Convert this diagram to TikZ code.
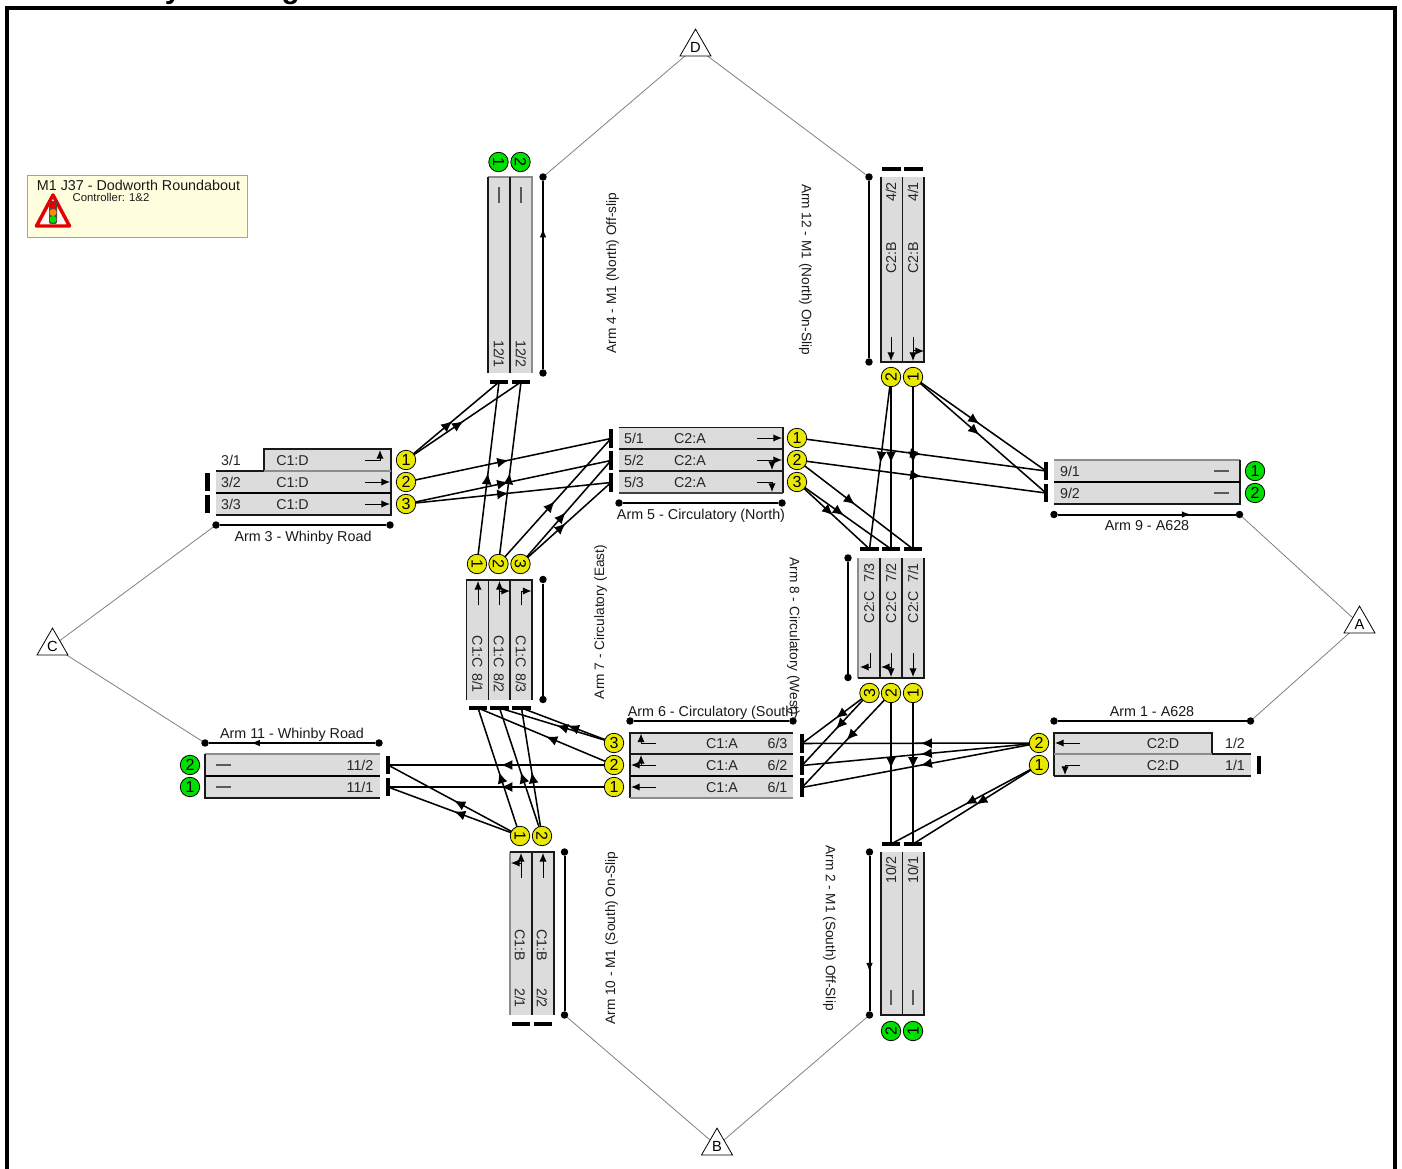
\documentclass[tikz,border=0pt]{standalone}
\usepackage{fontspec}
\setmainfont{Liberation Sans}
\usetikzlibrary{arrows.meta,decorations.markings,shapes.geometric}
\pgfdeclarelayer{connlayer}
\pgfsetlayers{connlayer,main}
\definecolor{lanefill}{HTML}{DCDCDC}
\definecolor{sigyellow}{HTML}{E8E800}
\definecolor{siggreen}{HTML}{00E000}
\definecolor{infofill}{HTML}{FFFFE0}
\definecolor{infoedge}{HTML}{A8A878}
\tikzset{
  edgeD/.style={draw=black!90,line width=1.15pt},
  edgeG/.style={draw=black!45,line width=.8pt},
  lanetxt/.style={font=\fontsize{10.7pt}{12pt}\selectfont,text=black!85,inner sep=0pt,text height=7.7pt,text depth=0pt},
  armtxt/.style={font=\fontsize{10.75pt}{12pt}\selectfont,text=black!90,inner sep=0pt,text height=7.7pt,text depth=0pt},
  armrot/.style={armtxt,font=\fontsize{10.25pt}{12pt}\selectfont},
  ysig/.style={circle,draw=black,line width=.6pt,fill=sigyellow,minimum size=14.6pt,inner sep=0pt,font=\fontsize{12pt}{13pt}\selectfont},
  gsig/.style={ysig,fill=siggreen},
  hbar/.style={rectangle,fill=black,minimum width=14pt,minimum height=3.2pt,inner sep=0pt},
  vbar/.style={rectangle,fill=black,minimum width=3.2pt,minimum height=14pt,inner sep=0pt},
  enddot/.style={circle,fill=black,minimum size=5.6pt,inner sep=0pt},
  sideline/.style={draw=black,line width=1.5pt},
  flowmark/.style={postaction={decorate},decoration={markings,mark=at position #1 with {\arrow{Latex[length=7pt,width=5pt]}}}},
  connect/.style={draw=black,line width=1.15pt,postaction={decorate},decoration={markings,mark=at position 0.5 with {\arrow{Latex[length=8.5pt,width=7.5pt]}}}},
  zone/.style={draw=black!50,line width=.6pt},
  tri/.style={regular polygon,regular polygon sides=3,draw=black,line width=.6pt,fill=white,minimum size=26.8pt,inner sep=0pt,font=\fontsize{11pt}{12pt}\selectfont},
  turn/.style={draw=black,line width=.75pt,-{Latex[length=6.5pt,width=5.5pt]}},
  bare/.style={draw=black!65,line width=.8pt},
}
\begin{document}
\begin{tikzpicture}[x=.75pt,y=-.75pt]
\useasboundingbox (0,0) rectangle (1402,1169);
% title and frame
\begin{scope}
\clip (0,0) rectangle (1402,1169);
\node[anchor=base west,inner sep=0pt,font=\bfseries\fontsize{22.2pt}{24pt}\selectfont] (title) at (5,-1) {Network Layout Diagram};
\draw[line width=3pt,black] (7,1180) -- (7,8) -- (1395,8) -- (1395,1180);
\end{scope}
% info box
\node[draw=infoedge,fill=infofill,line width=.6pt,minimum width=165pt,minimum height=46.5pt,inner sep=0pt] (info) at (137,206) {};
\node[armtxt] (infotitle) at (138.5,185) {M1 J37 - Dodworth Roundabout};
\node[inner sep=0pt,font=\fontsize{8.5pt}{10pt}\selectfont,text=black!90] (infosub) at (111,197) {Controller: 1\&2};
\draw[draw=red!90!black,fill=white!97!red,line width=2.6pt,line join=round] (53,195) -- (69.5,226) -- (36.5,226) -- cycle;
\fill[black!70,rounded corners=1.5pt] (49,201) rectangle (57,224);
\fill[red!90!black] (53,205.5) circle (3.5);
\fill[orange!90!yellow] (53,212.5) circle (3.5);
\fill[green!90!black] (53,219.5) circle (3.5);
% ---------- Arm 4
\fill[lanefill] (488,177) rectangle (532,373);
\draw[edgeG] (488,177) -- (532,177) -- (532,373);
\draw[edgeD] (488,177) -- (488,373) (510,177) -- (510,373);
\node[lanetxt,rotate=-90] (t121) at (499,354) {12/1};
\node[lanetxt,rotate=-90] (t122) at (521,354) {12/2};
\draw[bare] (499,187) -- (499,203) (521,187) -- (521,203);
\node[gsig,rotate=-90] (g41) at (498.5,162) {1};
\node[gsig,rotate=-90] (g42) at (520.5,162) {2};
\node[hbar] (b121) at (499,382) {};
\node[hbar] (b122) at (521,382) {};
\node[enddot] (d4a) at (543,177) {};
\node[enddot] (d4b) at (543,373) {};
\draw[sideline,flowmark=.75] (d4b) -- (d4a);
\node[armrot,rotate=90] (l4) at (611,273) {Arm 4 - M1 (North) Off-slip};
% ---------- Arm 12
\fill[lanefill] (881,177) rectangle (924,362);
\draw[edgeD] (881,177) -- (881,362) -- (924,362) -- (924,177) (902.5,177) -- (902.5,362);
\node[lanetxt,rotate=90] (t42) at (891,192) {4/2};
\node[lanetxt,rotate=90] (t41) at (913,192) {4/1};
\node[lanetxt,rotate=90] (c42) at (891,258) {C2:B};
\node[lanetxt,rotate=90] (c41) at (913,258) {C2:B};
\draw[turn] (891,337) -- (891,361);
\draw[turn] (913,337) -- (913,361);
\draw[turn] (913,351) -- (924,351);
\node[ysig,rotate=90] (s122) at (891,377) {2};
\node[ysig,rotate=90] (s121) at (913,377) {1};
\node[hbar] (b42) at (891.5,169) {};
\node[hbar] (b41) at (913.5,169) {};
\node[enddot] (d12a) at (869,177) {};
\node[enddot] (d12b) at (869,362) {};
\draw[sideline] (d12a) -- (d12b);
\node[armrot,rotate=-90] (l12) at (807,269.5) {Arm 12 - M1 (North) On-Slip};
% ---------- Arm 3
\fill[lanefill] (264,449) rectangle (391,471);
\fill[lanefill] (216,471) rectangle (391,515);
\draw[edgeD] (216,471) -- (264,471) -- (264,449) -- (391,449) -- (391,515) -- (216,515);
\draw[edgeG] (264,471) -- (391,471);
\draw[draw=black,line width=1.3pt] (216,493) -- (391,493);
\node[lanetxt] (t31) at (231,460.5) {3/1};
\node[lanetxt] (t32) at (231,482.5) {3/2};
\node[lanetxt] (t33) at (231,504.5) {3/3};
\node[lanetxt] (c31) at (292.5,460.5) {C1:D};
\node[lanetxt] (c32) at (292.5,482.5) {C1:D};
\node[lanetxt] (c33) at (292.5,504.5) {C1:D};
\draw[turn] (365,460) -- (380,460) -- (380,450);
\draw[turn] (365,482) -- (390,482);
\draw[turn] (365,504) -- (390,504);
\node[ysig] (s31) at (406,460) {1};
\node[ysig] (s32) at (406,482) {2};
\node[ysig] (s33) at (406,504) {3};
\node[vbar] (b32) at (207.5,482) {};
\node[vbar] (b33) at (207.5,504) {};
\node[enddot] (d3a) at (216,525) {};
\node[enddot] (d3b) at (390,525) {};
\draw[sideline] (d3a) -- (d3b);
\node[armtxt] (l3) at (303,536) {Arm 3 - Whinby Road};
% ---------- Arm 5
\fill[lanefill] (619,427) rectangle (783,493);
\draw[edgeD] (619,427.5) -- (783,427.5) -- (783,493) (619,449) -- (783,449) (619,471) -- (783,471);
\draw[draw=black!75,line width=1.2pt] (619,493) -- (783,493);
\node[lanetxt] (t51) at (634,438.5) {5/1};
\node[lanetxt] (t52) at (634,460.5) {5/2};
\node[lanetxt] (t53) at (634,482.5) {5/3};
\node[lanetxt] (c51) at (690,438.5) {C2:A};
\node[lanetxt] (c52) at (690,460.5) {C2:A};
\node[lanetxt] (c53) at (690,482.5) {C2:A};
\draw[turn] (757,438) -- (782,438);
\draw[turn] (757,460) -- (782,460);
\draw[turn] (772,460) -- (772,470);
\draw[turn] (757,482) -- (772,482) -- (772,492);
\node[ysig] (s51) at (797,438) {1};
\node[ysig] (s52) at (797,460) {2};
\node[ysig] (s53) at (797,482) {3};
\node[vbar] (b51) at (611,438.5) {};
\node[vbar] (b52) at (611,460.5) {};
\node[vbar] (b53) at (611,482.5) {};
\node[enddot] (d5a) at (619,503) {};
\node[enddot] (d5b) at (782,503) {};
\draw[sideline] (d5a) -- (d5b);
\node[armtxt] (l5) at (701,514) {Arm 5 - Circulatory (North)};
% ---------- Arm 9
\fill[lanefill] (1054,460) rectangle (1240,504);
\draw[edgeG] (1054,460) -- (1240,460);
\draw[edgeD] (1240,460) -- (1240,504) -- (1054,504);
\draw[draw=black,line width=1.3pt] (1054,482) -- (1240,482);
\node[lanetxt] (t91) at (1070,471) {9/1};
\node[lanetxt] (t92) at (1070,493) {9/2};
\draw[bare] (1214,471) -- (1229,471) (1214,493) -- (1229,493);
\node[gsig] (g91) at (1255,471) {1};
\node[gsig] (g92) at (1255,493) {2};
\node[vbar] (b91) at (1046,471) {};
\node[vbar] (b92) at (1046,493) {};
\node[enddot] (d9a) at (1054,514.5) {};
\node[enddot] (d9b) at (1239.5,514.5) {};
\draw[sideline,flowmark=.75] (d9a) -- (d9b);
\node[armtxt] (l9) at (1147,525.5) {Arm 9 - A628};
% ---------- Arm 7
\fill[lanefill] (466.5,580) rectangle (532,700);
\draw[edgeD] (466.5,700) -- (466.5,580) -- (532,580) -- (532,700) (488.5,580) -- (488.5,700) (510,580) -- (510,700);
\node[lanetxt,rotate=-90] (c81) at (477.5,652) {C1:C};
\node[lanetxt,rotate=-90] (c82) at (499,652) {C1:C};
\node[lanetxt,rotate=-90] (c83) at (521,652) {C1:C};
\node[lanetxt,rotate=-90] (t81) at (477.5,683) {8/1};
\node[lanetxt,rotate=-90] (t82) at (499,683) {8/2};
\node[lanetxt,rotate=-90] (t83) at (521,683) {8/3};
\draw[turn] (478,605) -- (478,581);
\draw[turn] (499.5,605) -- (499.5,581);
\draw[turn] (499.5,591) -- (510,591);
\draw[turn] (521,605) -- (521,591) -- (531.5,591);
\node[ysig,rotate=-90] (s71) at (477,564) {1};
\node[ysig,rotate=-90] (s72) at (498.5,564) {2};
\node[ysig,rotate=-90] (s73) at (520.5,564) {3};
\node[hbar] (b81) at (478,708) {};
\node[hbar] (b82) at (499.5,708) {};
\node[hbar] (b83) at (521.5,708) {};
\node[enddot] (d7a) at (543,579.5) {};
\node[enddot] (d7b) at (543,699.5) {};
\draw[sideline] (d7a) -- (d7b);
\node[armrot,rotate=90] (l7) at (599,622) {Arm 7 - Circulatory (East)};
% ---------- Arm 8
\fill[lanefill] (858,558) rectangle (924,678);
\draw[edgeG] (858,558) -- (858,678);
\draw[edgeD] (858,678) -- (924,678) -- (924,558) (880,558) -- (880,678) (902,558) -- (902,678);
\node[lanetxt,rotate=90] (t73) at (869,573) {7/3};
\node[lanetxt,rotate=90] (t72) at (891,573) {7/2};
\node[lanetxt,rotate=90] (t71) at (913,573) {7/1};
\node[lanetxt,rotate=90] (c73) at (869,607) {C2:C};
\node[lanetxt,rotate=90] (c72) at (891,607) {C2:C};
\node[lanetxt,rotate=90] (c71) at (913,607) {C2:C};
\draw[turn] (870,653) -- (870,667) -- (860,667);
\draw[turn] (891,653) -- (891,677);
\draw[turn] (891,667) -- (881,667);
\draw[turn] (913,653) -- (913,677);
\node[ysig,rotate=90] (s83) at (869.5,693) {3};
\node[ysig,rotate=90] (s82) at (891,693) {2};
\node[ysig,rotate=90] (s81) at (913,693) {1};
\node[hbar] (b73) at (869.5,549) {};
\node[hbar] (b72) at (891,549) {};
\node[hbar] (b71) at (913,549) {};
\node[enddot] (d8a) at (848,558) {};
\node[enddot] (d8b) at (848,677.5) {};
\draw[sideline] (d8a) -- (d8b);
\node[armrot,rotate=-90] (l8) at (795,636.5) {Arm 8 - Circulatory (West)};
% ---------- Arm 6
\fill[lanefill] (630,733) rectangle (793,798);
\draw[edgeD] (793,733) -- (630,733) -- (630,798) (630,754) -- (793,754);
\draw[draw=black,line width=1.3pt] (630,776) -- (793,776);
\draw[edgeG] (630,798) -- (793,798);
\node[lanetxt] (c63) at (722,743.5) {C1:A};
\node[lanetxt] (c62) at (722,765.5) {C1:A};
\node[lanetxt] (c61) at (722,787.5) {C1:A};
\node[lanetxt] (t63) at (777.5,743.5) {6/3};
\node[lanetxt] (t62) at (777.5,765.5) {6/2};
\node[lanetxt] (t61) at (777.5,787.5) {6/1};
\draw[turn] (656,743) -- (641,743) -- (641,733.5);
\draw[turn] (656,765) -- (631,765);
\draw[turn] (641,765) -- (641,755);
\draw[turn] (656,787) -- (631,787);
\node[ysig] (s63) at (614,743) {3};
\node[ysig] (s62) at (614,765) {2};
\node[ysig] (s61) at (614,787) {1};
\node[vbar] (b63) at (802,743.5) {};
\node[vbar] (b62) at (802,765.5) {};
\node[vbar] (b61) at (802,787.5) {};
\node[enddot] (d6a) at (630,721) {};
\node[enddot] (d6b) at (793,721) {};
\draw[sideline] (d6a) -- (d6b);
\node[armtxt] (l6) at (713,711) {Arm 6 - Circulatory (South)};
% ---------- Arm 1
\fill[lanefill] (1054,733) rectangle (1212,754);
\fill[lanefill] (1054,754) rectangle (1251,776);
\draw[edgeD] (1054,776) -- (1054,733) -- (1212,733) -- (1212,754) -- (1251,754);
\draw[edgeD] (1054,776) -- (1251,776);
\draw[edgeG] (1054,754) -- (1212,754);
\node[lanetxt] (c12) at (1163,743.5) {C2:D};
\node[lanetxt] (c11) at (1163,765.5) {C2:D};
\node[lanetxt] (t12) at (1235,743.5) {1/2};
\node[lanetxt] (t11) at (1235,765.5) {1/1};
\draw[turn] (1080,743) -- (1055,743);
\draw[turn] (1080,765) -- (1065,765) -- (1065,775);
\node[ysig] (s12) at (1039,743) {2};
\node[ysig] (s11) at (1039,765) {1};
\node[vbar] (b11) at (1259,765) {};
\node[enddot] (d1a) at (1054,721) {};
\node[enddot] (d1b) at (1250.5,721) {};
\draw[sideline] (d1a) -- (d1b);
\node[armtxt] (l1) at (1152,711) {Arm 1 - A628};
% ---------- Arm 11
\fill[lanefill] (205,754) rectangle (380,798);
\draw[edgeG] (205,754) -- (380,754);
\draw[edgeD] (205,754) -- (205,798) -- (380,798);
\draw[draw=black,line width=1.3pt] (205,776) -- (380,776);
\node[lanetxt] (t112) at (360,765.5) {11/2};
\node[lanetxt] (t111) at (360,787.5) {11/1};
\draw[bare] (216,765) -- (231,765) (216,787) -- (231,787);
\node[gsig] (g112) at (190,765) {2};
\node[gsig] (g111) at (190,787) {1};
\node[vbar] (b112) at (388,765) {};
\node[vbar] (b111) at (388,787) {};
\node[enddot] (d11a) at (379,743) {};
\node[enddot] (d11b) at (205,743) {};
\draw[sideline,flowmark=.75] (d11a) -- (d11b);
\node[armtxt] (l11) at (292,733.5) {Arm 11 - Whinby Road};
% ---------- Arm 10
\fill[lanefill] (510,852) rectangle (554,1015);
\draw[edgeG] (510,852) -- (510,1015);
\draw[edgeD] (510,852) -- (554,852) -- (554,1015) (532,852) -- (532,1015);
\node[lanetxt,rotate=-90] (c21) at (520,945) {C1:B};
\node[lanetxt,rotate=-90] (c22) at (542,945) {C1:B};
\node[lanetxt,rotate=-90] (t21) at (520,998) {2/1};
\node[lanetxt,rotate=-90] (t22) at (542,998) {2/2};
\draw[turn] (521,878) -- (521,853);
\draw[turn] (521,863) -- (511,863);
\draw[turn] (543,878) -- (543,853);
\node[ysig,rotate=-90] (s101) at (520,836) {1};
\node[ysig,rotate=-90] (s102) at (542,836) {2};
\node[hbar] (b21) at (521,1024) {};
\node[hbar] (b22) at (543,1024) {};
\node[enddot] (d10a) at (564.5,852) {};
\node[enddot] (d10b) at (564.5,1015) {};
\draw[sideline] (d10a) -- (d10b);
\node[armrot,rotate=90] (l10) at (610,938) {Arm 10 - M1 (South) On-Slip};
% ---------- Arm 2
\fill[lanefill] (881,852) rectangle (924,1015);
\draw[edgeD] (881,852) -- (881,1015) -- (924,1015) -- (924,852) (902.5,852) -- (902.5,1015);
\node[lanetxt,rotate=90] (t102) at (891,870) {10/2};
\node[lanetxt,rotate=90] (t101) at (913,870) {10/1};
\draw[bare] (891,990) -- (891,1005) (913,990) -- (913,1005);
\node[gsig,rotate=90] (g22) at (891,1031) {2};
\node[gsig,rotate=90] (g21) at (913,1031) {1};
\node[hbar] (b102) at (891,844) {};
\node[hbar] (b101) at (913,844) {};
\node[enddot] (d2a) at (869.5,852) {};
\node[enddot] (d2b) at (869.5,1015) {};
\draw[sideline,flowmark=.75] (d2a) -- (d2b);
\node[armrot,rotate=-90] (l2) at (831,928) {Arm 2 - M1 (South) Off-Slip};
% ---------- zone triangles
\node[tri] (A) at (1359.5,624) {A};
\node[tri] (B) at (717,1146) {B};
\node[tri] (C) at (52.5,646) {C};
\node[tri] (D) at (695.5,47) {D};
% ---------- connectors
\begin{pgfonlayer}{connlayer}
\foreach \a/\b in {A/d9b,A/d1b,B/d10b,B/d2b,C/d3a,C/d11b,D/d4a,D/d12a}
  \draw[zone] (\a.center) -- (\b.center);
\foreach \a/\b in {
  s31/b121,s31/b122,s32/b51,s33/b52,s33/b53,
  s71/b121,s72/b122,s72/b51,s73/b52,s73/b53,
  s51/b91,s52/b92,s52/b71,s53/b72,s53/b73,
  s122/b73,s122/b72,s121/b71,s121/b91,s121/b92,
  s83/b63,s83/b62,s82/b61,s82/b102,s81/b101,
  s12/b63,s12/b62,s12/b61,s11/b102,s11/b101,
  s63/b83,s63/b82,s62/b81,s62/b112,s61/b111,
  s101/b81,s102/b82,s102/b83,s101/b112,s101/b111}
  \draw[connect] (\a.center) -- (\b.center);
\end{pgfonlayer}
\end{tikzpicture}
\end{document}
